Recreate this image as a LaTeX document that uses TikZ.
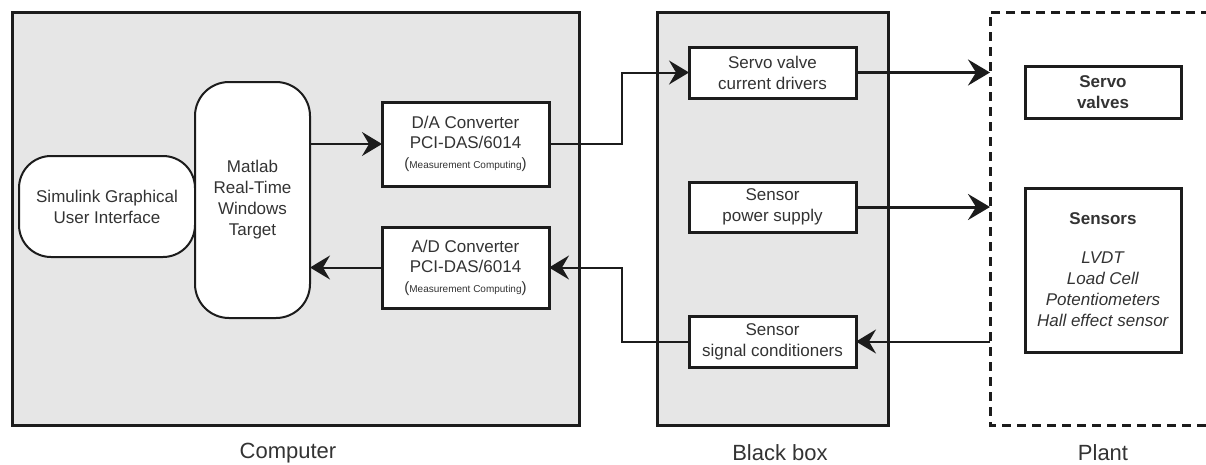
\documentclass[tikz,border=0pt]{standalone}
\usepackage{fontspec}
\setmainfont{Liberation Sans}
\usetikzlibrary{arrows.meta,calc}
\definecolor{panel}{HTML}{E6E6E6}
\definecolor{ink}{HTML}{1C1C1C}
\definecolor{txt}{HTML}{333333}
\begin{document}
\begin{tikzpicture}[x=1pt,y=-1pt,
  every node/.style={inner sep=0pt,outer sep=0pt,text=txt,font=\fontsize{17}{21}\selectfont,align=center},
  container/.style={draw=ink,line width=3pt,fill=panel,rectangle},
  blockbox/.style={draw=ink,line width=3pt,fill=white,rectangle},
  roundbox/.style={draw=ink,line width=2pt,fill=white,rectangle,rounded corners=#1},
  caption/.style={font=\fontsize{22}{26}\selectfont},
  arr/.style={draw=ink,line width=2pt,-{Stealth[length=20pt,width=24pt,inset=7pt]}},
  thickarr/.style={draw=ink,line width=3pt,-{Stealth[length=22pt,width=26pt,inset=8pt]}}
]
\path[use as bounding box] (0,0) rectangle (1206,464);

% containers
\node[container,minimum width=567pt,minimum height=413pt] (computer) at (295.5,218.5) {};
\node[container,minimum width=231pt,minimum height=413pt] (blackbox) at (772.5,218.5) {};
\draw[ink,line width=3pt,dash pattern=on 9pt off 6pt] (1210,12) -- (990,12) -- (990,425) -- (1210,425);
\coordinate (plantW) at (990,218.5);

% computer internals
\node[roundbox=32pt,minimum width=176pt,minimum height=101pt] (simulink) at (107,206.5) {Simulink Graphical\\User Interface};
\node[roundbox=34pt,minimum width=115pt,minimum height=236pt] (matlab) at (252.5,200) {Matlab\\Real-Time\\Windows\\Target};
\node[blockbox,minimum width=167pt,minimum height=84pt] (dac) at (465.5,144) {};
\node (dact) at (465.5,144) {D/A Converter\\[-1pt]PCI-DAS/6014\\[-1pt]{\fontsize{15}{15}\selectfont(}{\fontsize{10}{12}\selectfont Measurement Computing}{\fontsize{15}{15}\selectfont)}};
\node[blockbox,minimum width=167pt,minimum height=81pt] (adc) at (465.5,267.5) {};
\node (adct) at (465.5,267.5) {A/D Converter\\[-1pt]PCI-DAS/6014\\[-1pt]{\fontsize{15}{15}\selectfont(}{\fontsize{10}{12}\selectfont Measurement Computing}{\fontsize{15}{15}\selectfont)}};

% black box internals
\node[blockbox,minimum width=167pt,minimum height=51pt] (drv) at (772.5,72.5) {Servo valve\\current drivers};
\node[blockbox,minimum width=167pt,minimum height=50pt] (pwr) at (772.5,207) {Sensor\\power supply};
\node[blockbox,minimum width=167pt,minimum height=51pt] (cond) at (772.5,341.5) {Sensor\\signal conditioners};

% plant internals
\node[blockbox,minimum width=156pt,minimum height=52pt] (valves) at (1103,92) {\textbf{Servo}\\\textbf{valves}};
\node[blockbox,minimum width=156pt,minimum height=164pt] (sensors) at (1103,270) {\textbf{Sensors}\\[18pt]\textit{LVDT}\\\textit{Load Cell}\\\textit{Potentiometers}\\\textit{Hall effect sensor}};

% captions
\node[caption] (capc) at (288,453) {Computer};
\node[caption] (capb) at (780,453) {Black box};
\node[caption] (capp) at (1103,453) {Plant};

% connectors
\draw[arr] (matlab.east |- dac.west) -- (dac.west);
\draw[arr] (adc.west) -- (matlab.east |- adc.west);
\draw[arr] (dac.east) -- ++(73,0) |- (drv.west);
\draw[arr] (cond.west) -- ++(-67,0) |- (adc.east);
\draw[thickarr] (drv.east) -- (drv.east -| plantW);
\draw[thickarr] (pwr.east) -- (pwr.east -| plantW);
\draw[arr] (cond.east -| plantW) -- (cond.east);
\end{tikzpicture}
\end{document}
